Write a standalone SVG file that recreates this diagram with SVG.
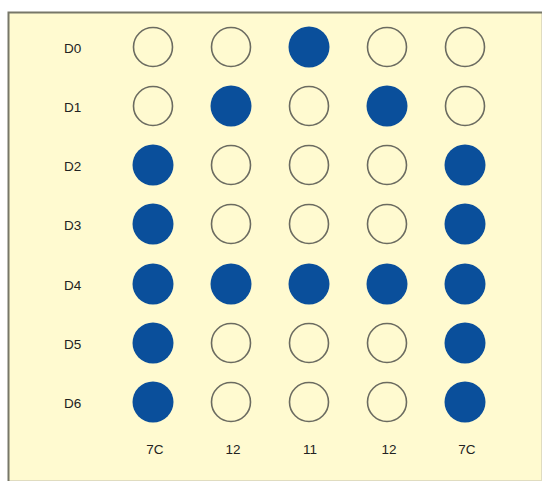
<svg xmlns="http://www.w3.org/2000/svg" width="548" height="487" viewBox="0 0 548 487">
<style>
.lbl{font-family:"Liberation Sans",Arial,sans-serif;font-size:13.5px;fill:#222;}
.off{fill:none;stroke:#6b6b60;stroke-width:1.6;}
.on{fill:#0a4f9b;stroke:none;}
</style>
<rect x="0" y="0" width="548" height="487" fill="#ffffff"/>
<rect x="8.5" y="12.5" width="533" height="468" fill="#fffad0" stroke="#e0dcc0" stroke-width="1"/>
<path d="M8.5 481 V12.5 H542" fill="none" stroke="#777768" stroke-width="2"/>
<g id="rowlabels">
<text class="lbl" x="64" y="53">D0</text>
<text class="lbl" x="64" y="112">D1</text>
<text class="lbl" x="64" y="171">D2</text>
<text class="lbl" x="64" y="230">D3</text>
<text class="lbl" x="64" y="290">D4</text>
<text class="lbl" x="64" y="349">D5</text>
<text class="lbl" x="64" y="408">D6</text>
</g>
<g id="collabels" text-anchor="middle">
<text class="lbl" x="155" y="454">7C</text>
<text class="lbl" x="233" y="454">12</text>
<text class="lbl" x="310" y="454">11</text>
<text class="lbl" x="389" y="454">12</text>
<text class="lbl" x="467" y="454">7C</text>
</g>
<g id="col1">
<circle class="off" cx="153" cy="47" r="19.5"/>
<circle class="off" cx="153" cy="106" r="19.5"/>
<circle class="on" cx="153" cy="165" r="20.5"/>
<circle class="on" cx="153" cy="224" r="20.5"/>
<circle class="on" cx="153" cy="284" r="20.5"/>
<circle class="on" cx="153" cy="343" r="20.5"/>
<circle class="on" cx="153" cy="402" r="20.5"/>
</g>
<g id="col2">
<circle class="off" cx="231" cy="47" r="19.5"/>
<circle class="on" cx="231" cy="106" r="20.5"/>
<circle class="off" cx="231" cy="165" r="19.5"/>
<circle class="off" cx="231" cy="224" r="19.5"/>
<circle class="on" cx="231" cy="284" r="20.5"/>
<circle class="off" cx="231" cy="343" r="19.5"/>
<circle class="off" cx="231" cy="402" r="19.5"/>
</g>
<g id="col3">
<circle class="on" cx="309" cy="47" r="20.5"/>
<circle class="off" cx="309" cy="106" r="19.5"/>
<circle class="off" cx="309" cy="165" r="19.5"/>
<circle class="off" cx="309" cy="224" r="19.5"/>
<circle class="on" cx="309" cy="284" r="20.5"/>
<circle class="off" cx="309" cy="343" r="19.5"/>
<circle class="off" cx="309" cy="402" r="19.5"/>
</g>
<g id="col4">
<circle class="off" cx="387" cy="47" r="19.5"/>
<circle class="on" cx="387" cy="106" r="20.5"/>
<circle class="off" cx="387" cy="165" r="19.5"/>
<circle class="off" cx="387" cy="224" r="19.5"/>
<circle class="on" cx="387" cy="284" r="20.5"/>
<circle class="off" cx="387" cy="343" r="19.5"/>
<circle class="off" cx="387" cy="402" r="19.5"/>
</g>
<g id="col5">
<circle class="off" cx="465" cy="47" r="19.5"/>
<circle class="off" cx="465" cy="106" r="19.5"/>
<circle class="on" cx="465" cy="165" r="20.5"/>
<circle class="on" cx="465" cy="224" r="20.5"/>
<circle class="on" cx="465" cy="284" r="20.5"/>
<circle class="on" cx="465" cy="343" r="20.5"/>
<circle class="on" cx="465" cy="402" r="20.5"/>
</g>
<g id="connectors"/>
</svg>
